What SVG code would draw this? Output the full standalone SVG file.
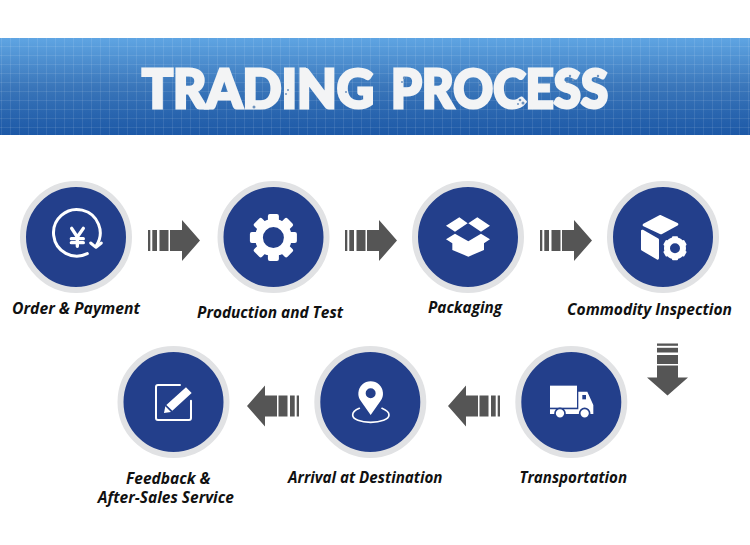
<svg xmlns="http://www.w3.org/2000/svg" width="750" height="545" viewBox="0 0 750 545">
<style>
.ring{fill:#233f8b;stroke:#e1e2e4;stroke-width:6}
.lab{font-family:"Open Sans","Noto Sans",sans-serif;font-style:italic;font-weight:700;font-size:15.5px;fill:#111}
.ttl{font-family:"Lato","Liberation Sans",sans-serif;font-weight:900;font-size:54px;fill:#f3f4f5;stroke:#f3f4f5;stroke-width:3;stroke-linejoin:miter}
.w{fill:#fff}
.ln{fill:none;stroke:#fff;stroke-linecap:round;stroke-linejoin:round}
.ar{fill:#555}
.blue{fill:#233f8b}
.sp{fill:#6f93bd}
</style>
<defs>
<linearGradient id="bg" x1="0" y1="0" x2="0" y2="1"><stop offset="0" stop-color="#5fa5e3"/><stop offset="0.5" stop-color="#3a76ba"/><stop offset="1" stop-color="#1c58a6"/></linearGradient>
<pattern id="grid" width="9" height="9" patternUnits="userSpaceOnUse" x="2" y="38"><path d="M8.5 0V9M0 8.5H9" fill="none" stroke="#fff" stroke-opacity=".09" stroke-width="1"/></pattern>
<g id="arrow">
<rect x="0" y="10" width="2.3" height="21"/><rect x="4.3" y="10" width="4.7" height="21"/><rect x="11.5" y="10" width="9" height="21"/>
<path d="M22 10H34V0L52 20.5 34 41V31H22Z"/>
</g>
</defs>
<g id="banner"><rect x="0" y="38" width="750" height="97" fill="url(#bg)"/><rect x="0" y="38" width="750" height="97" fill="url(#grid)"/>
<text class="ttl" x="142" y="108" textLength="232" lengthAdjust="spacingAndGlyphs">TRADING</text>
<text class="ttl" x="391" y="108" textLength="217" lengthAdjust="spacingAndGlyphs">PROCESS</text>
<g class="sp"><circle cx="254" cy="107" r="1.5"/><circle cx="288" cy="90" r="1"/><circle cx="286" cy="94" r="1"/><circle cx="346" cy="92" r="1"/><circle cx="404" cy="78" r="1.2"/><circle cx="402" cy="82" r="1"/><circle cx="520" cy="100" r="1.3"/><circle cx="523" cy="103" r="1.5"/><circle cx="518" cy="104" r="1"/><circle cx="570" cy="76" r="1.2"/><circle cx="573" cy="80" r="1.2"/><circle cx="567" cy="82" r="1"/><circle cx="598" cy="76" r="1.2"/><circle cx="595" cy="80" r="1"/><circle cx="480" cy="85" r="1"/></g></g>
<g id="connectors" class="ar">
<use href="#arrow" x="148" y="220"/>
<use href="#arrow" x="345" y="220"/>
<use href="#arrow" x="540" y="220"/>
<use href="#arrow" transform="translate(688,343.5) rotate(90)"/>
<use href="#arrow" transform="translate(500,426.5) rotate(180)"/>
<use href="#arrow" transform="translate(299,426.5) rotate(180)"/>
</g>
<g id="n1"><circle class="ring" cx="76" cy="237" r="53"/>
<g transform="translate(0,175) scale(.3333)">
<path class="ln" stroke-width="9" d="M262 236A70 70 0 1 1 289 212"/>
<path class="ln" stroke-width="9" d="M272 204L288 217 304 204"/>
<path class="ln" stroke-width="10" d="M215 160L232 186 250 160M214 191H250M214 203H250M232 186V214"/>
</g>
<text class="lab" x="12" y="314" textLength="128" lengthAdjust="spacingAndGlyphs">Order &amp; Payment</text></g>
<g id="n2"><circle class="ring" cx="273.5" cy="237" r="53"/>
<g transform="translate(273.4,237.6)">
<circle class="ln" style="stroke-linecap:butt" r="14.5" stroke-width="8"/>
<g class="w"><rect x="-5.5" y="-23.5" width="11" height="9" rx="2"/><rect x="-5.5" y="-23.5" width="11" height="9" rx="2" transform="rotate(45)"/><rect x="-5.5" y="-23.5" width="11" height="9" rx="2" transform="rotate(90)"/><rect x="-5.5" y="-23.5" width="11" height="9" rx="2" transform="rotate(135)"/><rect x="-5.5" y="-23.5" width="11" height="9" rx="2" transform="rotate(180)"/><rect x="-5.5" y="-23.5" width="11" height="9" rx="2" transform="rotate(225)"/><rect x="-5.5" y="-23.5" width="11" height="9" rx="2" transform="rotate(270)"/><rect x="-5.5" y="-23.5" width="11" height="9" rx="2" transform="rotate(315)"/></g>
</g>
<text class="lab" x="197" y="317.5" textLength="146" lengthAdjust="spacingAndGlyphs">Production and Test</text></g>
<g id="n3"><circle class="ring" cx="468" cy="237" r="53"/>
<g transform="translate(400,175) scale(.3333)" class="w">
<path d="M138 152L178 127 203 145 165 170ZM270 152L232 127 205 145 243 170Z"/>
<path d="M138 193L165 176 205 199 243 176 270 193 252 205V225L205 245 157 225V205Z"/>
</g>
<text class="lab" x="428" y="313" textLength="74" lengthAdjust="spacingAndGlyphs">Packaging</text></g>
<g id="n4"><circle class="ring" cx="663" cy="237" r="53"/>
<g transform="translate(560,175) scale(.3333)">
<path class="w" stroke="#fff" stroke-width="8" stroke-linejoin="round" d="M252 150L300 124 351 148 303 174ZM247 168L293 194V250L247 223Z"/>
<g transform="translate(345,220)"><circle r="24" fill="none" stroke="#fff" stroke-width="18"/>
<g class="w"><rect x="-9" y="-36" width="18" height="14" rx="3"/><rect x="-9" y="-36" width="18" height="14" rx="3" transform="rotate(60)"/><rect x="-9" y="-36" width="18" height="14" rx="3" transform="rotate(120)"/><rect x="-9" y="-36" width="18" height="14" rx="3" transform="rotate(180)"/><rect x="-9" y="-36" width="18" height="14" rx="3" transform="rotate(240)"/><rect x="-9" y="-36" width="18" height="14" rx="3" transform="rotate(300)"/></g></g>
</g>
<text class="lab" x="567" y="315" textLength="165" lengthAdjust="spacingAndGlyphs">Commodity Inspection</text></g>
<g id="n5"><circle class="ring" cx="571.3" cy="402" r="53"/>
<g transform="translate(500,340) scale(.3333)">
<rect class="w" x="150" y="137" width="81" height="66"/>
<path class="w" d="M235 155H262L280 195V222H150V208H235Z"/>
<rect class="blue" x="247" y="165" width="11" height="13"/>
<circle class="w" cx="180" cy="220" r="15" stroke="#233f8b" stroke-width="5"/>
<circle class="w" cx="254" cy="220" r="15" stroke="#233f8b" stroke-width="5"/>
</g>
<text class="lab" x="519.5" y="483" textLength="107.5" lengthAdjust="spacingAndGlyphs">Transportation</text></g>
<g id="n6"><circle class="ring" cx="370.3" cy="402" r="53"/>
<g transform="translate(280,340) scale(.3333)">
<path class="ln" stroke-width="5" d="M238 205C226 210 218 217 218 225 218 238 242 247 272 247S327 238 327 225C327 217 318 210 306 205"/>
<path class="w" fill-rule="evenodd" d="M272 225L243 184A37 37 0 1 1 301 184ZM272 145A15 15 0 1 0 272 175 15 15 0 1 0 272 145Z"/>
</g>
<text class="lab" x="288" y="483" textLength="154.5" lengthAdjust="spacingAndGlyphs">Arrival at Destination</text></g>
<g id="n7"><circle class="ring" cx="173.5" cy="402" r="53"/>
<g transform="translate(90,340) scale(.3333)">
<path class="ln" stroke-width="6" d="M270 135H204Q198 135 198 141V234Q198 240 204 240H297Q303 240 303 234V182"/>
<path class="w" d="M288 142L305 159 247 212 229 195ZM226 199L243 216 222 219Z"/>
</g>
<text class="lab" text-anchor="middle"><tspan x="168.3" y="484">Feedback &amp;</tspan><tspan x="165.8" y="502.5">After-Sales Service</tspan></text></g>
</svg>
